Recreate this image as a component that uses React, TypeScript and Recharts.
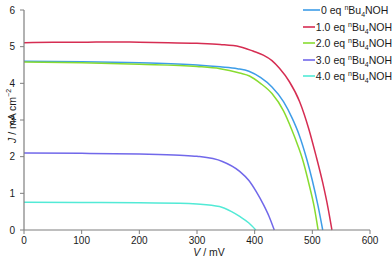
import { LineChart, Line, XAxis, YAxis, Legend, Label } from 'recharts';

// J-V curves (V in mV, J in mA cm^-2)
const voltage0 = [0, 100, 200, 300, 340, 370, 390, 410, 430, 450, 465, 477, 490, 500, 510, 518];
const current0 = [4.6, 4.59, 4.56, 4.5, 4.45, 4.4, 4.33, 4.16, 3.9, 3.5, 3.05, 2.6, 1.95, 1.35, 0.65, 0];

const voltage1 = [0, 50, 100, 150, 200, 250, 300, 340, 374, 397, 415, 430, 443, 460, 478, 494, 506, 518, 527, 534];
const current1 = [5.11, 5.12, 5.12, 5.13, 5.12, 5.11, 5.09, 5.06, 5.0, 4.88, 4.77, 4.62, 4.41, 4.05, 3.5, 2.75, 2.05, 1.29, 0.62, 0];

const voltage2 = [0, 100, 200, 300, 340, 374, 391, 410, 430, 450, 464, 475, 483, 495, 503, 510];
const current2 = [4.58, 4.56, 4.52, 4.46, 4.4, 4.28, 4.2, 4.0, 3.72, 3.25, 2.75, 2.3, 1.93, 1.2, 0.65, 0];

const voltage3 = [0, 100, 200, 270, 300, 344, 374, 390, 403, 415, 425, 434];
const current3 = [2.1, 2.09, 2.07, 2.04, 2.01, 1.87, 1.6, 1.35, 1.04, 0.7, 0.37, 0];

const voltage4 = [0, 100, 200, 270, 300, 339, 360, 374, 390, 402];
const current4 = [0.76, 0.75, 0.74, 0.73, 0.71, 0.64, 0.5, 0.37, 0.19, 0];

const equivalents = ['0', '1.0', '2.0', '3.0', '4.0'];
const colors = ['#3e9de8', '#d62d52', '#88dc30', '#7168ea', '#52ead6'];

const xTicks = [0, 100, 200, 300, 400, 500, 600];
const yTicks = [0, 1, 2, 3, 4, 5, 6];

const zip = (vs: number[], js: number[]) => vs.map((v, i) => ({ v, j: js[i] }));

const series = [
  zip(voltage0, current0),
  zip(voltage1, current1),
  zip(voltage2, current2),
  zip(voltage3, current3),
  zip(voltage4, current4),
];

const FONT = '"Liberation Sans", Arial, sans-serif';
const AXIS = '#7f7f7f';

const renderLegend = () => (
  <div style={{ fontFamily: FONT, fontSize: 10.5, color: '#1a1a1a' }}>
    {equivalents.map((eq, i) => (
      <div key={eq} style={{ display: 'flex', alignItems: 'center', height: 16.5 }}>
        <svg width={17} height={4} style={{ marginRight: 1 }}>
          <line x1={0} y1={2} x2={17} y2={2} stroke={colors[i]} strokeWidth={1.6} />
        </svg>
        <span style={{ whiteSpace: 'nowrap' }}>
          {eq} eq{' '}
          <span style={{ fontSize: 7, position: 'relative', top: -4 }}>n</span>Bu
          <span style={{ fontSize: 7, position: 'relative', top: 3 }}>4</span>NOH
        </span>
      </div>
    ))}
  </div>
);

export default function App() {
  return (
    <div style={{ position: 'absolute', left: 0, top: 0, width: 392, height: 257, background: '#fff' }}>
      <LineChart width={392} height={257} margin={{ top: 10, right: 22, bottom: 0, left: 0 }}>
        <XAxis
          type="number"
          dataKey="v"
          domain={[0, 600]}
          ticks={xTicks}
          height={27}
          tickSize={4}
          tickMargin={3}
          tick={{ fontSize: 10, fill: '#1a1a1a', fontFamily: FONT }}
          axisLine={{ stroke: AXIS, strokeWidth: 1.2 }}
          tickLine={{ stroke: AXIS }}
        >
          <Label
            content={() => (
              <text x={209} y={256} textAnchor="middle" fontSize={10.5} fontFamily={FONT} fill="#1a1a1a">
                <tspan fontStyle="italic">V</tspan> / mV
              </text>
            )}
          />
        </XAxis>
        <YAxis
          type="number"
          domain={[0, 6]}
          ticks={yTicks}
          width={24}
          tickSize={4}
          tickMargin={5}
          tick={{ fontSize: 10, fill: '#1a1a1a', fontFamily: FONT }}
          axisLine={{ stroke: AXIS, strokeWidth: 1.2 }}
          tickLine={{ stroke: AXIS }}
        >
          <Label
            content={() => (
              <text
                x={12}
                y={116}
                transform="rotate(-90, 12, 116)"
                textAnchor="middle"
                dominantBaseline="central"
                fontSize={10.5}
                fontFamily={FONT}
                fill="#1a1a1a"
              >
                <tspan fontStyle="italic">J</tspan> / mA cm
                <tspan dy={-4} fontSize={7}>−2</tspan>
              </text>
            )}
          />
        </YAxis>
        <Legend
          layout="horizontal"
          verticalAlign="middle"
          align="center"
          content={renderLegend}
          wrapperStyle={{ left: 303, top: 2, width: 89, height: 84 }}
        />
        {series.map((data, i) => (
          <Line
            key={equivalents[i]}
            data={data}
            dataKey="j"
            name={`${equivalents[i]} eq nBu4NOH`}
            type="monotone"
            stroke={colors[i]}
            strokeWidth={1.5}
            dot={false}
            isAnimationActive={false}
          />
        ))}
      </LineChart>
    </div>
  );
}
